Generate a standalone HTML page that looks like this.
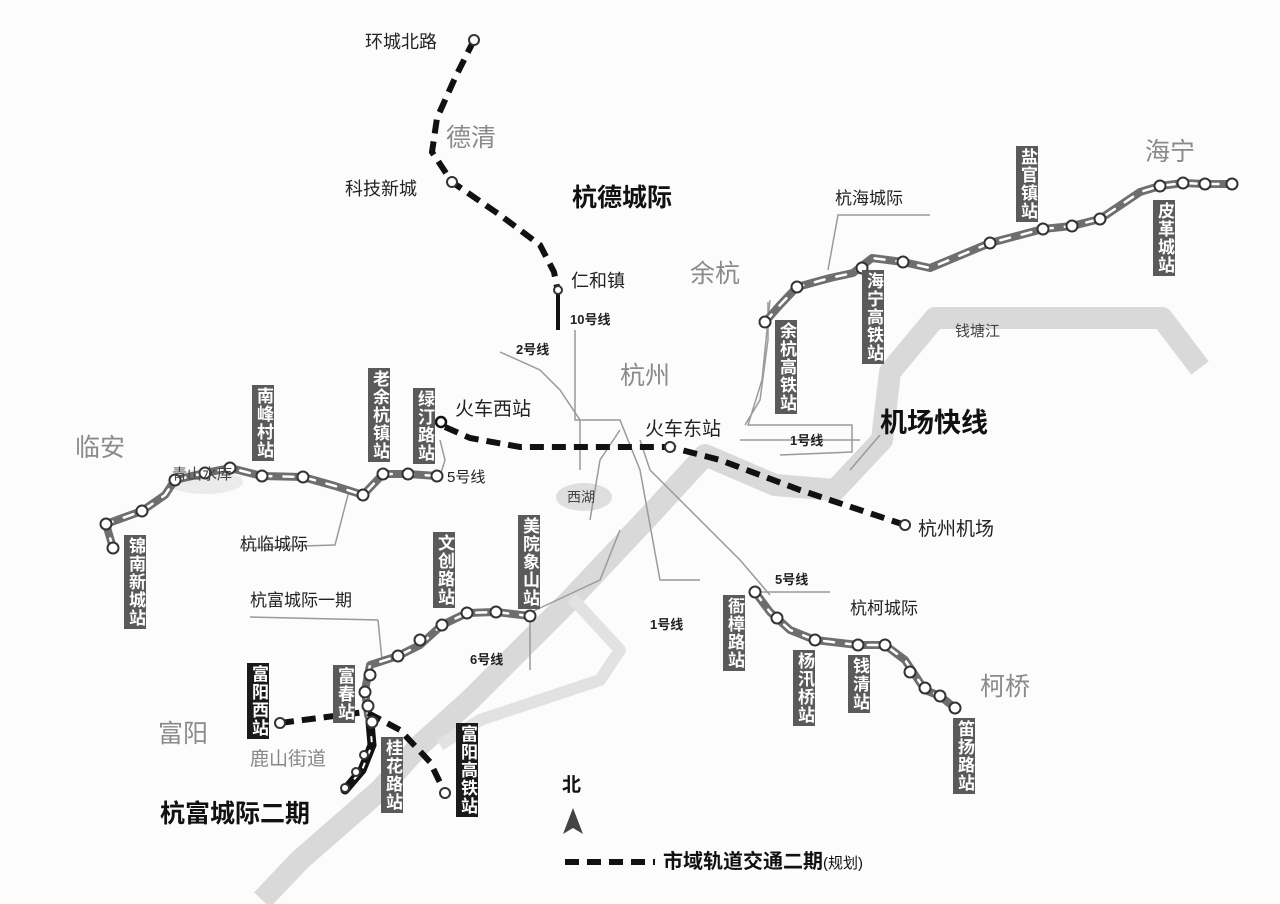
<!DOCTYPE html>
<html><head><meta charset="utf-8">
<style>
body{margin:0;background:#fff;}
#w{position:relative;width:1280px;height:904px;overflow:hidden;background:#fcfcfc;font-family:"Liberation Sans","Noto Sans CJK SC",sans-serif;}
svg{position:absolute;left:0;top:0;}
.t{position:absolute;white-space:nowrap;line-height:1;color:#222;}
.g{color:#8a8a8a;font-size:25px;}
.b{font-weight:bold;color:#111;}
.v{position:absolute;writing-mode:vertical-rl;background:#5a5a5a;color:#fff;font-size:17px;font-weight:bold;line-height:22px;width:22px;text-align:center;letter-spacing:1px;padding:2px 0;}
.k{background:#1a1a1a;}
</style></head><body><div id="w">
<svg width="1280" height="904" viewBox="0 0 1280 904">
<!-- river -->
<path d="M1200,368 L1162,318 L935,318 L890,372 L882,440 L835,490 L775,485 L705,455 L650,515 L570,600 L520,650 L470,700 L420,745 L380,790 L300,860 L262,900" fill="none" stroke="#d9d9d9" stroke-width="22" stroke-linejoin="round"/>
<path d="M572,598 L620,650 L600,680 L540,700 L480,720 L440,745" fill="none" stroke="#e2e2e2" stroke-width="12" stroke-linejoin="round"/>
<ellipse cx="584" cy="497" rx="28" ry="14" fill="#dedede"/>
<ellipse cx="205" cy="482" rx="38" ry="12" fill="#ebebeb"/>
<!-- thin metro lines -->
<g fill="none" stroke="#9a9a9a" stroke-width="1.5">
<path d="M500,352 L540,370 L560,390 L580,420 L580,470"/>
<path d="M770,300 L762,380 L748,425 L852,425 L852,452 L780,455"/>
<path d="M575,330 L575,420 L620,420 L640,470 L660,580 L700,580"/>
<path d="M640,440 L650,470 L740,560 L770,595"/>
<path d="M525,615 L600,580 L620,530"/>
<path d="M530,617 L530,670"/>
<path d="M620,430 L600,460 L590,520"/>
<path d="M750,592 L830,592"/>
<path d="M440,440 L445,460 L440,476"/>
<path d="M350,487 L335,545 L240,548"/>
<path d="M378,620 L382,660 L370,665"/>
<path d="M250,617 L378,620"/>
<path d="M828,270 L838,215 L930,215"/>
<path d="M768,302 L768,340 L760,400 L745,425"/>
<path d="M740,440 L860,440"/>
<path d="M850,470 L880,435"/>
</g>
<!-- grey lines with white dashes -->
<g fill="none" stroke-linejoin="round" stroke-linecap="round">
<g stroke="#6e6e6e" stroke-width="8">
<path id="l1" d="M113,548 L106,524 L142,511 L165,495 L175,480 L205,473 L230,468 L262,476 L303,477 L335,486 L363,495 L383,474 L408,474 L437,476"/>
<path id="l2" d="M765,322 L780,305 L797,287 L830,278 L853,273 L872,258 L903,262 L930,268 L990,243 L1043,229 L1072,226 L1100,219 L1140,192 L1160,186 L1183,183 L1205,184 L1232,184"/>
<path id="l3" d="M530,616 L496,612 L467,613 L442,625 L420,645 L398,656 L370,665 L365,690 L368,715 L372,725"/>
<path id="l4" d="M755,592 L770,612 L790,630 L815,640 L858,645 L885,645 L905,660 L925,690 L940,696 L955,708"/>
</g>
<g stroke="#fff" stroke-width="2.5" stroke-dasharray="10 12">
<use href="#l1"/><use href="#l2"/><use href="#l3"/><use href="#l4"/>
</g>
</g>
<!-- black dashed lines -->
<g fill="none" stroke="#111" stroke-width="6" stroke-dasharray="14 8">
<path d="M474,40 L455,78 L437,118 L432,152 L452,182 L500,215 L540,245 L554,272 L558,292"/>
<path d="M445,427 L470,438 L520,447 L670,447 L720,460 L800,490 L905,525"/>
<path d="M280,723 L365,712"/>
<path d="M368,713 L400,730 L430,762 L445,793"/>
</g>
<path d="M558,292 L558,330" stroke="#111" stroke-width="4"/>
<path d="M345,790 L362,770 L372,745 L370,722" fill="none" stroke="#111" stroke-width="9" stroke-linecap="round"/>
<path d="M345,790 L362,770 L372,745 L370,722" fill="none" stroke="#fff" stroke-width="2" stroke-dasharray="6 8"/>
<!-- stations -->
<g fill="#fff" stroke="#333" stroke-width="2">
<circle cx="113" cy="548" r="5.5"/><circle cx="106" cy="524" r="5.5"/><circle cx="142" cy="511" r="5.5"/><circle cx="175" cy="480" r="5.5"/><circle cx="205" cy="473" r="5.5"/><circle cx="230" cy="468" r="5.5"/><circle cx="262" cy="476" r="5.5"/><circle cx="303" cy="477" r="5.5"/><circle cx="363" cy="495" r="5.5"/><circle cx="383" cy="474" r="5.5"/><circle cx="408" cy="474" r="5.5"/><circle cx="437" cy="476" r="5.5"/>
<circle cx="765" cy="322" r="5.5"/><circle cx="797" cy="287" r="5.5"/><circle cx="862" cy="268" r="5.5"/><circle cx="903" cy="262" r="5.5"/><circle cx="990" cy="243" r="5.5"/><circle cx="1043" cy="229" r="5.5"/><circle cx="1072" cy="226" r="5.5"/><circle cx="1100" cy="219" r="5.5"/><circle cx="1160" cy="186" r="5.5"/><circle cx="1183" cy="183" r="5.5"/><circle cx="1205" cy="184" r="5.5"/><circle cx="1232" cy="184" r="5.5"/>
<circle cx="530" cy="616" r="5.5"/><circle cx="496" cy="612" r="5.5"/><circle cx="467" cy="613" r="5.5"/><circle cx="442" cy="625" r="5.5"/><circle cx="420" cy="640" r="5.5"/><circle cx="398" cy="656" r="5.5"/><circle cx="370" cy="675" r="5.5"/><circle cx="365" cy="692" r="5.5"/><circle cx="368" cy="706" r="5.5"/><circle cx="372" cy="722" r="5.5"/>
<circle cx="755" cy="592" r="5.5"/><circle cx="777" cy="618" r="5.5"/><circle cx="815" cy="640" r="5.5"/><circle cx="858" cy="645" r="5.5"/><circle cx="885" cy="645" r="5.5"/><circle cx="910" cy="672" r="5.5"/><circle cx="925" cy="688" r="5.5"/><circle cx="940" cy="696" r="5.5"/><circle cx="955" cy="708" r="5.5"/>
<circle cx="474" cy="40" r="5"/><circle cx="452" cy="182" r="5"/><circle cx="558" cy="290" r="4"/><circle cx="670" cy="447" r="5"/><circle cx="905" cy="525" r="5"/><circle cx="280" cy="723" r="5"/><circle cx="445" cy="793" r="5"/><circle cx="345" cy="788" r="4"/><circle cx="356" cy="772" r="4"/><circle cx="364" cy="755" r="4"/>
</g>
<circle cx="441" cy="422" r="5" fill="#fff" stroke="#111" stroke-width="2.5"/>
<!-- north arrow -->
<path d="M573,808 L563,834 L573,828 L583,834 Z" fill="#444"/>
<path d="M565,862 L655,862" stroke="#111" stroke-width="6" stroke-dasharray="14 8"/>
</svg>
<!-- text labels -->
<div class="t" style="left:365px;top:33px;font-size:18px">环城北路</div>
<div class="t g" style="left:446px;top:126px">德清</div>
<div class="t" style="left:345px;top:180px;font-size:18px">科技新城</div>
<div class="t b" style="left:572px;top:186px;font-size:25px">杭德城际</div>
<div class="t" style="left:571px;top:272px;font-size:18px">仁和镇</div>
<div class="t" style="left:570px;top:313px;font-size:13px;font-weight:bold">10号线</div>
<div class="t" style="left:516px;top:343px;font-size:13px;font-weight:bold">2号线</div>
<div class="t g" style="left:620px;top:364px">杭州</div>
<div class="t g" style="left:690px;top:262px">余杭</div>
<div class="t" style="left:835px;top:190px;font-size:17px">杭海城际</div>
<div class="t g" style="left:1145px;top:140px">海宁</div>
<div class="t" style="left:955px;top:324px;font-size:15px;color:#444">钱塘江</div>
<div class="t" style="left:455px;top:400px;font-size:19px">火车西站</div>
<div class="t" style="left:645px;top:420px;font-size:19px">火车东站</div>
<div class="t" style="left:790px;top:434px;font-size:13px;font-weight:bold">1号线</div>
<div class="t b" style="left:880px;top:410px;font-size:27px">机场快线</div>
<div class="t" style="left:918px;top:520px;font-size:19px">杭州机场</div>
<div class="t" style="left:567px;top:490px;font-size:14px;color:#444">西湖</div>
<div class="t g" style="left:75px;top:436px">临安</div>
<div class="t" style="left:172px;top:467px;font-size:15px;color:#444">青山水库</div>
<div class="t" style="left:240px;top:536px;font-size:17px">杭临城际</div>
<div class="t" style="left:447px;top:470px;font-size:15px">5号线</div>
<div class="t" style="left:250px;top:592px;font-size:17px">杭富城际一期</div>
<div class="t" style="left:470px;top:653px;font-size:13px;font-weight:bold">6号线</div>
<div class="t" style="left:650px;top:618px;font-size:13px;font-weight:bold">1号线</div>
<div class="t" style="left:775px;top:573px;font-size:13px;font-weight:bold">5号线</div>
<div class="t" style="left:850px;top:600px;font-size:17px">杭柯城际</div>
<div class="t g" style="left:980px;top:675px">柯桥</div>
<div class="t g" style="left:158px;top:722px">富阳</div>
<div class="t" style="left:250px;top:750px;font-size:19px;color:#888">鹿山街道</div>
<div class="t b" style="left:160px;top:802px;font-size:25px">杭富城际二期</div>
<div class="t b" style="left:562px;top:776px;font-size:19px">北</div>
<div class="t b" style="left:663px;top:852px;font-size:20px">市域轨道交通二期<span style="font-weight:normal;font-size:15px">(规划)</span></div>
<!-- vertical station boxes -->
<div class="v" style="left:124px;top:535px">锦南新城站</div>
<div class="v" style="left:252px;top:385px">南峰村站</div>
<div class="v" style="left:368px;top:368px">老余杭镇站</div>
<div class="v" style="left:413px;top:388px">绿汀路站</div>
<div class="v" style="left:775px;top:320px">余杭高铁站</div>
<div class="v" style="left:862px;top:270px">海宁高铁站</div>
<div class="v" style="left:1016px;top:146px">盐官镇站</div>
<div class="v" style="left:1153px;top:200px">皮革城站</div>
<div class="v" style="left:433px;top:532px">文创路站</div>
<div class="v" style="left:518px;top:515px">美院象山站</div>
<div class="v" style="left:333px;top:665px">富春站</div>
<div class="v k" style="left:247px;top:663px">富阳西站</div>
<div class="v" style="left:381px;top:737px">桂花路站</div>
<div class="v k" style="left:456px;top:723px">富阳高铁站</div>
<div class="v" style="left:723px;top:595px">衙樟路站</div>
<div class="v" style="left:793px;top:650px">杨汛桥站</div>
<div class="v" style="left:848px;top:655px">钱清站</div>
<div class="v" style="left:953px;top:718px">笛扬路站</div>
</div></body></html>
